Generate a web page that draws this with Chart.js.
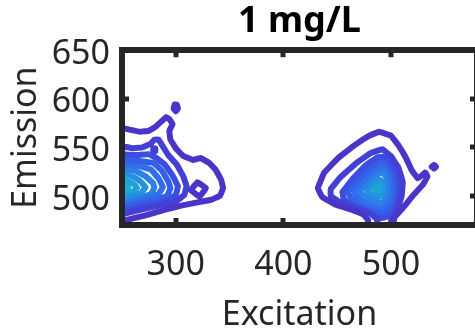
<!DOCTYPE html>
<html>
<head>
<meta charset="utf-8">
<script src="https://cdn.jsdelivr.net/npm/chart.js@4.4.1/dist/chart.umd.min.js"></script>
<style>
  html, body { margin: 0; padding: 0; background: #fff; overflow: hidden; }
  #wrap { width: 475px; height: 332px; overflow: hidden; }
</style>
</head>
<body>
<div id="wrap"><canvas id="eem" width="490" height="336"></canvas></div>
<script>
// axis ticks
const excitationTicks = [300, 400, 500];
const emissionTicks   = [500, 550, 600, 650];
const excitationRange = [250, 580];
const emissionRange   = [470, 650];

// contour paths, [excitation, emission] pairs

// band at the short-wavelength edge
const leftLevel1 = [[250,570],[258,568],[267,566],[275,567],[281,571],[287,577],[291,581],[294,579],[297,574],[294,567],[295,558],[300,549],[307,541],[316,537],[323,539],[331,534],[337,527],[342,517],[344,508],[341,500],[333,496],[319,493],[305,490],[291,486],[272,480],[250,474]];
const leftIsland = [[314,506],[320,514],[328,508],[322,499],[314,506]];
const leftSpeck  = [[299,594],[301,594],[302,590],[300,587],[298,590],[299,594]];
const leftLevel2 = [[250,551],[260,549],[269,550],[277,554],[280,558],[284,558],[288,551],[293,542],[301,532],[307,520],[310,510],[308,501],[301,495],[288,491],[272,487],[250,481]];
const leftBump   = [[279,549],[281,549],[281,546],[279,546],[279,549]];
const leftLevel3 = [[250,543],[263,542],[275,543],[282,539],[290,532],[297,521],[302,510],[300,501],[292,495],[277,491],[250,484]];
const leftLevel4 = [[250,538],[266,536],[279,534],[287,526],[293,515],[295,508],[292,500],[279,495],[250,488]];
const leftLevel5 = [[250,533],[265,531],[277,527],[284,518],[288,509],[284,502],[273,497],[250,490]];
const leftLevel6 = [[250,528],[262,526],[272,520],[279,513],[280,508],[277,502],[266,498],[250,493]];
const leftLevel7 = [[250,523],[260,520],[267,515],[272,509],[268,503],[260,500],[250,496]];
const leftLevel8 = [[250,517],[256,515],[262,511],[264,508],[260,504],[250,500]];
const leftLevel9 = [[250,513],[255,510],[256,508],[254,506],[250,504]];

// peak around 490 / 508
const rightLevel1 = [[477,466],[479,475],[474,481],[463,486],[448,491],[436,499],[432,508],[438,524],[451,539],[466,552],[480,562],[489,566],[500,562],[507,552],[514,539],[519,527],[525,518],[532,524],[534,520],[530,512],[521,501],[513,490],[505,480],[500,473],[498,466]];
const rightSpeck  = [[538,530],[540,532],[542,530],[540,528],[538,530]];
const rightLevel2 = [[488,466],[487,476],[480,483],[467,488],[453,493],[444,500],[444,507],[453,519],[467,533],[481,544],[492,548],[500,541],[507,529],[511,514],[510,500],[506,486],[503,477],[502,466]];
const rightLevel3 = [[455,504],[464,517],[476,531],[488,540],[495,540],[502,532],[507,519],[508,505],[506,491],[500,480],[491,477],[478,483],[464,489],[456,497],[455,504]];
const rightLevel4 = [[460,504],[469,516],[480,528],[489,535],[496,534],[502,525],[505,513],[505,500],[501,489],[494,482],[483,484],[471,490],[463,497],[460,504]];
const rightLevel5 = [[466,505],[474,515],[482,524],[490,530],[497,527],[501,517],[502,505],[499,494],[492,487],[482,489],[472,495],[467,501],[466,505]];
const rightLevel6 = [[471,506],[479,514],[485,521],[491,524],[496,520],[498,510],[497,500],[493,493],[484,494],[477,498],[472,503],[471,506]];
const rightLevel7 = [[477,507],[483,513],[489,517],[494,514],[495,507],[493,500],[486,499],[480,502],[477,507]];
const rightLevel8 = [[483,508],[488,512],[492,510],[491,504],[486,503],[483,508]];
const rightLevel9 = [[488,509],[490,510],[491,508],[489,506],[488,509]];

// each path with its contour level (1 = lowest)
const contours = [
  [leftLevel1, 1], [leftSpeck, 1], [leftIsland, 1], [leftLevel2, 2], [leftBump, 2],
  [leftLevel3, 3], [leftLevel4, 4], [leftLevel5, 5], [leftLevel6, 6],
  [leftLevel7, 7], [leftLevel8, 8], [leftLevel9, 9],
  [rightLevel1, 1], [rightSpeck, 1], [rightLevel2, 2], [rightLevel3, 3],
  [rightLevel4, 4], [rightLevel5, 5], [rightLevel6, 6], [rightLevel7, 7],
  [rightLevel8, 8], [rightLevel9, 9]
];

// low end of parula
const levelColors = ['#4a35c8', '#4440d6', '#3c4ee0', '#355fe8', '#2f70ea', '#2a82e6', '#2493df', '#1ea2d8', '#19aed2'];

const INK  = '#262626';
const FONT = "'Noto Sans', sans-serif";

const datasets = contours.map(([path, level]) => ({
  data: path.map(([x, y]) => ({ x: x, y: y })),
  borderColor: levelColors[level - 1],
  borderWidth: 6,
  borderJoinStyle: 'round',
  borderCapStyle: 'round',
  pointRadius: 0,
  showLine: true,
  tension: 0.05,
  clip: 0
}));

function fixedTicks(values) {
  return function (scale) { scale.ticks = values.map(v => ({ value: v })); };
}
function fixedSize(prop, px) {
  return function (scale) { scale[prop] = px; };
}

const boxBorder  = { display: true, width: 6, color: INK, z: 1 };
const inwardTick = { drawOnChartArea: false, drawTicks: true, tickLength: -7, tickWidth: 5, tickColor: INK, lineWidth: 6 };
const tickFont   = { family: FONT, size: 34 };

new Chart(document.getElementById('eem').getContext('2d'), {
  type: 'scatter',
  data: { datasets: datasets },
  options: {
    responsive: false,
    animation: false,
    layout: { padding: { left: 0, right: 13, top: 0, bottom: 0 } },
    plugins: {
      legend: { display: false },
      tooltip: { enabled: false },
      title: {
        display: true,
        fullSize: false,
        text: '1 mg/L',
        color: '#000',
        font: { family: FONT, size: 36, weight: 'bold' },
        padding: { top: 0, bottom: 7 }
      }
    },
    scales: {
      x: {
        type: 'linear', position: 'bottom', z: 1,
        min: excitationRange[0], max: excitationRange[1],
        afterBuildTicks: fixedTicks(excitationTicks),
        afterFit: fixedSize('height', 111),
        border: boxBorder,
        grid: inwardTick,
        ticks: { font: tickFont, color: INK, padding: 27, maxRotation: 0 },
        title: { display: true, text: 'Excitation', color: INK, font: tickFont, padding: { top: 0, bottom: 0 } }
      },
      xTop: {
        type: 'linear', position: 'top', z: 1,
        min: excitationRange[0], max: excitationRange[1],
        afterBuildTicks: fixedTicks(excitationTicks),
        afterFit: fixedSize('height', 0),
        border: boxBorder,
        grid: inwardTick,
        ticks: { display: false }
      },
      y: {
        type: 'linear', position: 'left', z: 1,
        min: emissionRange[0], max: emissionRange[1],
        afterBuildTicks: fixedTicks(emissionTicks),
        afterFit: fixedSize('width', 122),
        border: boxBorder,
        grid: inwardTick,
        ticks: { font: tickFont, color: INK, padding: 19, labelOffset: 4 },
        title: { display: true, text: 'Emission', color: INK, font: tickFont, padding: { top: 6, bottom: 0 } }
      },
      yRight: {
        type: 'linear', position: 'right', z: 1,
        min: emissionRange[0], max: emissionRange[1],
        afterBuildTicks: fixedTicks(emissionTicks),
        afterFit: fixedSize('width', 0),
        border: boxBorder,
        grid: inwardTick,
        ticks: { display: false }
      }
    }
  }
});
</script>
</body>
</html>
